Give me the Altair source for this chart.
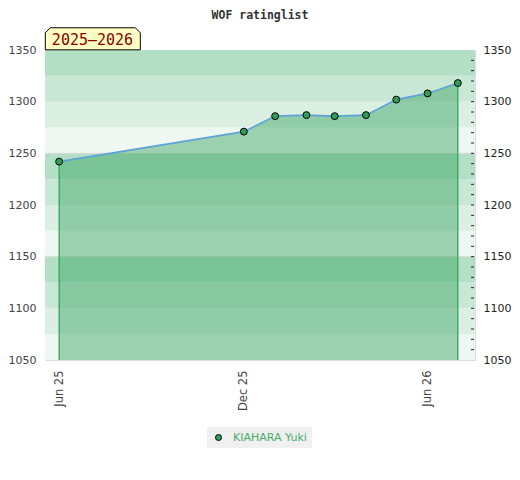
import altair as alt
import pandas as pd

# ---- data ----
dates = ["2025-06-01", "2025-12-01", "2026-01-01", "2026-02-01", "2026-03-01",
         "2026-04-01", "2026-05-01", "2026-06-01", "2026-07-01"]
ratings = [1242, 1271, 1286, 1287, 1286, 1287, 1302, 1308, 1318]
player = "KIAHARA Yuki"
season = "2025–2026"
chart_title = "WOF ratinglist"

band_lo = [1050, 1075, 1100, 1125, 1150, 1175, 1200, 1225, 1250, 1275, 1300, 1325]
band_hi = [1075, 1100, 1125, 1150, 1175, 1200, 1225, 1250, 1275, 1300, 1325, 1350]
band_colors = ["#eef7f1", "#dcefe3", "#c9e7d5", "#b3dfc4",
               "#eef7f1", "#dcefe3", "#c9e7d5", "#b3dfc4",
               "#eef7f1", "#dcefe3", "#c9e7d5", "#b3dfc4"]
grid_values = [1150, 1250]
y_labels = [1050, 1100, 1150, 1200, 1250, 1300, 1350]
minor_ticks = [1060, 1070, 1080, 1090, 1100, 1110, 1120, 1130, 1140, 1150,
               1160, 1170, 1180, 1190, 1200, 1210, 1220, 1230, 1240, 1250,
               1260, 1270, 1280, 1290, 1300, 1310, 1320, 1330, 1340]
y_min, y_max = 1050, 1350

df = pd.DataFrame({"date": dates, "rating": ratings, "name": player})
df_ends = df.iloc[[0, len(df) - 1]]
df_bands = pd.DataFrame({"lo": band_lo, "hi": band_hi, "color": band_colors})
df_grid = pd.DataFrame({"g": grid_values})
df_ticks = pd.DataFrame({"t": minor_ticks})

W, H = 430, 310

yscale = alt.Scale(domain=[y_min, y_max], zero=False, nice=False)
yaxis = alt.Axis(title="", values=y_labels, format="d", ticks=False, domain=False, grid=False,
                 labelPadding=9, labelFont="DejaVu Sans", labelFontSize=11,
                 labelColor="#444444")

xscale = alt.Scale(type="utc", domain=[alt.DateTime(year=2025, month=5, date=18, utc=True),
                                       alt.DateTime(year=2026, month=7, date=18, utc=True)])
xaxis = alt.Axis(title="", values=[alt.DateTime(year=2025, month=6, date=1, utc=True),
                                   alt.DateTime(year=2025, month=12, date=1, utc=True),
                                   alt.DateTime(year=2026, month=6, date=1, utc=True)],
                 format="%b %y", labelAngle=270, ticks=False, tickSize=0, domain=False,
                 grid=False, labelPadding=10, labelFont="DejaVu Sans", labelFontSize=11.5,
                 labelColor="#444444")


def X():
    return alt.X("date:T", scale=xscale, axis=xaxis)


bands = alt.Chart(df_bands).mark_rect().encode(
    y=alt.Y("lo:Q", scale=yscale, axis=yaxis),
    y2="hi:Q",
    fill=alt.Fill("color:N", scale=None),
)

grid = alt.Chart(df_grid).mark_rule(color="#d9d9d9", strokeWidth=1).encode(
    y=alt.Y("g:Q", scale=yscale, axis=yaxis)
)

area = alt.Chart(df).mark_area(color="#39a461", opacity=0.46).encode(
    x=X(), y=alt.Y("rating:Q", scale=yscale, axis=yaxis), y2=alt.datum(y_min)
)

vrules = alt.Chart(df_ends).mark_rule(color="#22a552", strokeWidth=1.2).encode(
    x=X(), y=alt.Y("rating:Q", scale=yscale, axis=yaxis), y2=alt.datum(y_min)
)

line = alt.Chart(df).mark_line(color="#5ca3d9", strokeWidth=1.6).encode(
    x=X(), y=alt.Y("rating:Q", scale=yscale, axis=yaxis)
)

points = alt.Chart(df).mark_circle(size=48, stroke="black", strokeWidth=1, opacity=1).encode(
    x=X(), y=alt.Y("rating:Q", scale=yscale, axis=yaxis),
    color=alt.Color("name:N", scale=alt.Scale(range=["#2e9e58"]),
                    legend=alt.Legend(title=None, orient="none", legendX=162, legendY=377,
                                      fillColor="#f0f0f0", padding=5,
                                      labelColor="#45ad68", labelFont="DejaVu Sans",
                                      labelFontSize=11, symbolType="circle",
                                      symbolSize=36, symbolStrokeColor="black",
                                      symbolStrokeWidth=1, symbolOffset=1, labelOffset=9)),
)

box_path = "M -1 -0.126 L -0.895 -0.232 L 0.895 -0.232 L 1 -0.126 L 1 0.232 L -1 0.232 Z"
box = alt.Chart(alt.Data(values=[{"label": season}])).mark_point(
    shape=box_path, size=95 * 95, filled=True, fill="#ffffc4", stroke="black",
    strokeWidth=1, opacity=1
).encode(x=alt.value(47.8), y=alt.value(-11.2))

label = alt.Chart(alt.Data(values=[{"label": season}])).mark_text(
    font="DejaVu Sans Mono", fontSize=15, color="#8b0000", align="center", baseline="middle"
).encode(x=alt.value(47.5), y=alt.value(-10.5), text="label:N")

main = alt.layer(bands, grid, area, vrules, line, points, box, label)

right = alt.Chart(df_ticks).mark_rule(color="#222222", strokeWidth=1).encode(
    y=alt.Y("t:Q", scale=yscale,
            axis=alt.Axis(orient="right", title="", values=y_labels, format="d", ticks=False,
                          domain=False, grid=False, labelPadding=8,
                          labelFont="DejaVu Sans", labelFontSize=11,
                          labelColor="#222222")),
    x=alt.value(W - 4), x2=alt.value(W - 1),
)

chart = alt.layer(main, right).resolve_scale(y="independent").properties(
    width=W, height=H,
    title=alt.TitleParams(chart_title, font="DejaVu Sans Mono", fontSize=11.5,
                          fontWeight="bold", color="#333333", anchor="middle", offset=4),
    autosize=alt.AutoSizeParams(type="none"),
    padding={"left": 37, "top": 42, "right": 37, "bottom": 120},
).configure_view(stroke="#dddddd").configure(background="white")

chart.save("out.html", embed_options={"renderer": "svg", "actions": False})
